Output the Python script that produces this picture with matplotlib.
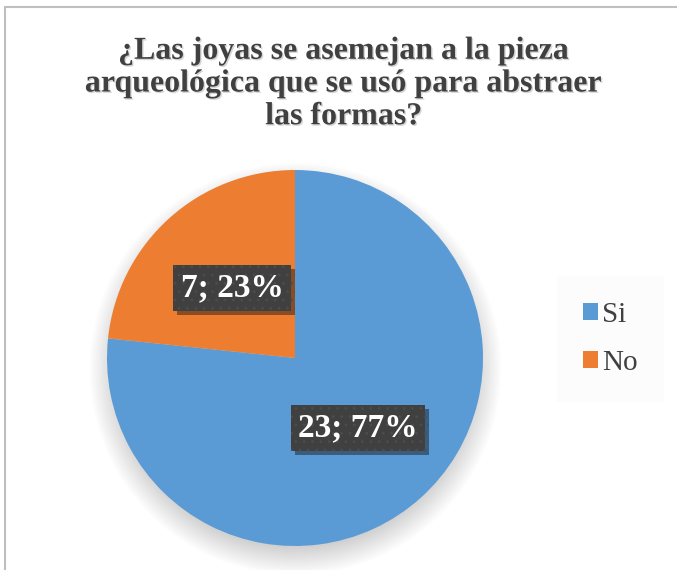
import numpy as np
import matplotlib
matplotlib.use('Agg')
import matplotlib.pyplot as plt
import matplotlib.patheffects as pe
from matplotlib.patches import Rectangle

# survey answers
labels = ['Si', 'No']
counts = [23, 7]
colors = ['#5B9BD5', '#ED7D31']
title = '¿Las joyas se asemejan a la pieza\narqueológica que se usó para abstraer\nlas formas?'

plt.rcParams['font.family'] = 'serif'
plt.rcParams['font.serif'] = ['Liberation Serif', 'Times New Roman', 'DejaVu Serif']

W, H = 677, 570
fig = plt.figure(figsize=(W / 100, H / 100), dpi=100)
fig.patch.set_facecolor('white')

# outer chart border (top and left visible)
fig.patches.append(Rectangle((5 / W, -0.1), 1.2, 1 - 7 / H + 0.1, transform=fig.transFigure,
                             fill=False, edgecolor='#BFBFBF', linewidth=1.5, zorder=0))

fig.text(0.508, 1 - 84 / H, title, ha='center', va='center', fontsize=23, fontweight='bold',
         color='#404040', linespacing=1.17,
         path_effects=[pe.withSimplePatchShadow(offset=(1, -1), shadow_rgbFace='#999999', alpha=0.4)])

# pie axes, centred at (295, 358) px with radius 188 px
cx, cy, r = 295, 358, 188
lim = 1.15
side = 2 * r * lim
ax = fig.add_axes([(cx - side / 2) / W, (H - cy - side / 2) / H, side / W, side / H])

# soft shadow under the pie
g = np.linspace(-lim, lim, 400)
xx, yy = np.meshgrid(g, g)
rr = np.hypot(xx, yy + 0.06)
alpha = np.clip((1.10 - rr) / 0.17, 0, 1) * 0.32
shadow = np.zeros((400, 400, 4))
shadow[..., :3] = 0.35
shadow[..., 3] = alpha
ax.imshow(shadow, extent=(-lim, lim, -lim, lim), origin='lower', zorder=0, interpolation='bilinear')

total = sum(counts)


def fmt(pct):
    n = int(round(pct * total / 100))
    return '{}; {:.0f}%'.format(n, pct)


wedges, texts, autotexts = ax.pie(counts, colors=colors, startangle=90, counterclock=False,
                                  autopct=fmt, pctdistance=0.5, radius=1,
                                  wedgeprops=dict(linewidth=0), frame=True)
ax.set_xlim(-lim, lim)
ax.set_ylim(-lim, lim)
ax.set_aspect('equal')
ax.axis('off')
for w in wedges:
    w.set_zorder(2)

plt.rcParams['hatch.linewidth'] = 0.8
for t in autotexts:
    t.set_fontsize(24)
    t.set_fontweight('bold')
    t.set_color('white')
    t.set_zorder(5)
    t.set_bbox(dict(boxstyle='square,pad=0.22', facecolor='#404040', edgecolor='#4C4C4C',
                    linewidth=0, hatch='..'))
    t.get_bbox_patch().set_path_effects([pe.SimplePatchShadow(offset=(3, -3), alpha=0.45),
                                         pe.Normal()])

leg = fig.legend(wedges, labels, loc='center left', bbox_to_anchor=(551 / W, 1 - 339 / H),
                 fontsize=21, frameon=True, handlelength=0.5, handleheight=0.5,
                 handletextpad=0.15, labelspacing=0.75, borderpad=0.6)
leg.get_frame().set_facecolor('#FCFCFC')
leg.get_frame().set_edgecolor('none')
leg.get_frame().set_boxstyle('square')
for txt in leg.get_texts():
    txt.set_color('#404040')

fig.savefig('out.png', dpi=100)
